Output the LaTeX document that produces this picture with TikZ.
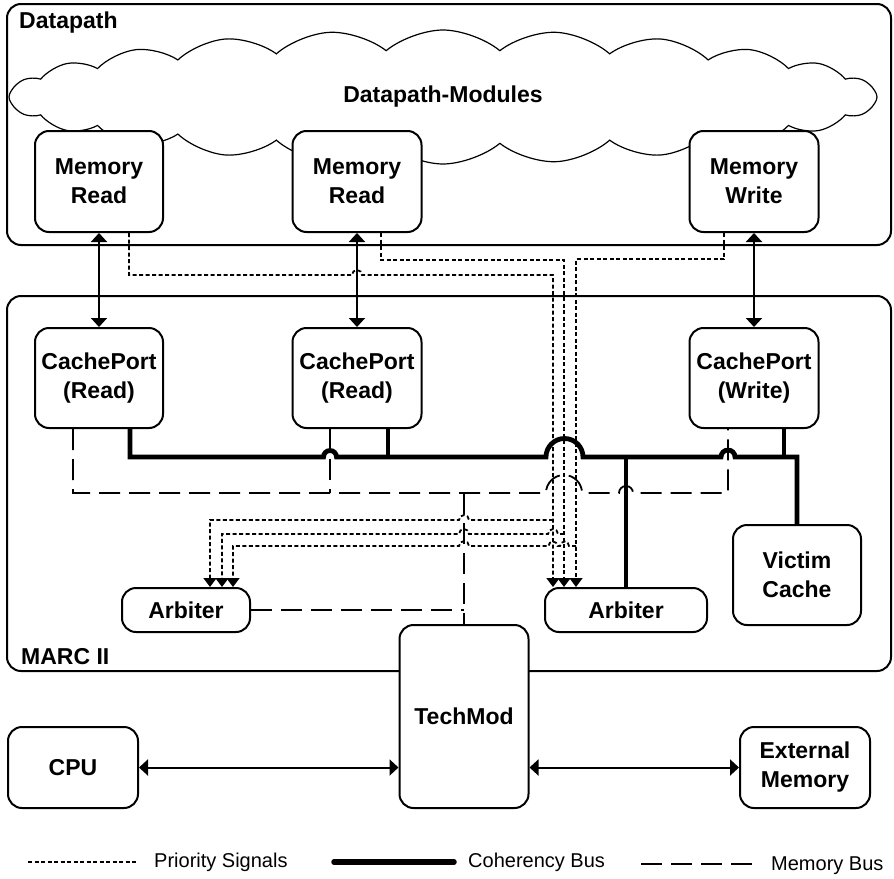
\documentclass[tikz,border=0pt]{standalone}
\usepackage{fontspec}
\setmainfont{Liberation Sans}
\usetikzlibrary{arrows.meta,shapes.symbols}

\newcommand\unitfont{\fontsize{23}{29}\selectfont\bfseries}
\newcommand\keyfont{\fontsize{20}{24}\selectfont}

\tikzset{
  frame/.style={draw, line width=2pt, rounded corners=14pt},
  unit/.style={draw, fill=white, line width=2pt, rounded corners=14pt,
    align=center, font=\unitfont, inner sep=0pt},
  title/.style={font=\unitfont, anchor=west, inner sep=0pt},
  link/.style={line width=2pt,
    {Triangle[width=16pt,length=9pt]}-{Triangle[width=16pt,length=9pt]}},
  prio/.style={line width=1.8pt, dash pattern=on 4pt off 2.5pt},
  prioend/.style={prio, -{Triangle[width=13pt,length=9pt]}},
  cohbus/.style={line width=4.8pt},
  membus/.style={line width=1.8pt, dash pattern=on 21pt off 9pt},
  keytext/.style={font=\keyfont, anchor=west, inner sep=0pt},
}

\begin{document}
\begin{tikzpicture}[x=1pt, y=-1pt]
\useasboundingbox (0,0) rectangle (894,878);

% enclosing blocks
\node[frame, minimum width=884pt, minimum height=241pt] (dp) at (449,124.5) {};
\node[frame, minimum width=884pt, minimum height=375pt] (marc) at (449,483.5) {};
\node[title] (dpt) at (19,23) {Datapath};
\node[title] (marct) at (21,657) {MARC II};

% cloud of datapath modules
\node[cloud, draw, line width=1.2pt, cloud puffs=24, cloud puff arc=80,
  cloud ignores aspect, minimum width=868pt, minimum height=134pt,
  inner sep=0pt, font=\unitfont] (dpm) at (443,97) {Datapath-Modules};

% memory modules
\node[unit, minimum width=128pt, minimum height=101pt] (mr1) at (99,181.5) {Memory\\Read};
\node[unit, minimum width=129pt, minimum height=101pt] (mr2) at (357,181.5) {Memory\\Read};
\node[unit, minimum width=129pt, minimum height=101pt] (mw) at (754,181.5) {Memory\\Write};

% cache ports
\node[unit, minimum width=128pt, minimum height=100pt] (cp1) at (99,378) {CachePort\\(Read)};
\node[unit, minimum width=129pt, minimum height=100pt] (cp2) at (357,378) {CachePort\\(Read)};
\node[unit, minimum width=129pt, minimum height=100pt] (cpw) at (754,378) {CachePort\\(Write)};

% arbiters, victim cache
\node[unit, minimum width=128pt, minimum height=44pt] (arb1) at (186,610) {Arbiter};
\node[unit, minimum width=162pt, minimum height=44pt] (arb2) at (626,610) {Arbiter};
\node[unit, minimum width=128pt, minimum height=100pt] (vc) at (797,575) {Victim\\Cache};

% TechMod and external parts
\node[unit, minimum width=129pt, minimum height=183pt] (tm) at (464,716.5) {TechMod};
\node[unit, minimum width=130pt, minimum height=81pt] (cpu) at (73,767.5) {CPU};
\node[unit, minimum width=130pt, minimum height=81pt] (em) at (805,767.5) {External\\Memory};

% data links
\draw[link] (mr1.south) -- (cp1.north);
\draw[link] (mr2.south) -- (cp2.north);
\draw[link] (mw.south) -- (cpw.north);
\draw[link] (cpu.east) -- (cpu.east -| tm.west);
\draw[link] (em.west -| tm.east) -- (em.west);

% coherency bus
\draw[cohbus] (130,0 |- cp1.south) -- (130,457) -- (323.5,457)
  arc[start angle=180, end angle=0, radius=6.5pt] -- (546,457)
  arc[start angle=180, end angle=0, radius=18.5pt] -- (721,457)
  arc[start angle=180, end angle=0, radius=7pt] -- (797,457) -- (vc.north);
\draw[cohbus] (388,0 |- cp2.south) -- (388,457);
\draw[cohbus] (784,0 |- cpw.south) -- (784,457);
\draw[cohbus] (626,457) -- (arb2.north);

% memory bus
\draw[membus] (73,0 |- cp1.south) -- (73,493) -- (546,493)
  arc[start angle=180, end angle=0, radius=18pt] -- (619,493)
  arc[start angle=180, end angle=0, radius=7pt] -- (728,493) -- (728,0 |- cpw.south);
\draw[membus] (330,0 |- cp2.south) -- (330,493);
\draw[membus] (464,493) -- (tm.north);
\draw[membus] (arb1.east) -- (464,0 |- arb1.east);

% priority signals
\draw[prioend] (129,0 |- mr1.south) -- (129,275) -- (352,275)
  arc[start angle=180, end angle=0, radius=5pt] -- (553,275) -- (553,0 |- arb2.north);
\draw[prioend] (553,520) -- (469,520)
  arc[start angle=0, end angle=180, radius=5pt] -- (210,520) -- (210,0 |- arb1.north);

\draw[prioend] (381,0 |- mr2.south) -- (381,260) -- (564,260) -- (564,0 |- arb2.north);
\draw[prioend] (564,534) -- (558,534)
  arc[start angle=0, end angle=180, radius=5pt] -- (469,534)
  arc[start angle=0, end angle=180, radius=5pt] -- (222,534) -- (222,0 |- arb1.north);

\draw[prioend] (724,0 |- mw.south) -- (724,259) -- (576,259) -- (576,0 |- arb2.north);
\draw[prioend] (576,546) -- (569,546)
  arc[start angle=0, end angle=180, radius=4.5pt] -- (557.5,546)
  arc[start angle=0, end angle=180, radius=4.5pt] -- (469,546)
  arc[start angle=0, end angle=180, radius=5pt] -- (233,546) -- (233,0 |- arb1.north);

% key
\coordinate (k1a) at (28,862);
\coordinate (k1b) at (138,862);
\coordinate (k2a) at (334,862);
\coordinate (k2b) at (454,862);
\coordinate (k3a) at (641,864);
\coordinate (k3b) at (758,864);
\draw[prio] (k1a) -- (k1b);
\draw[cohbus, line width=5.5pt, line cap=round] (k2a) -- (k2b);
\draw[membus] (k3a) -- (k3b);
\node[keytext] (k1t) at (154,862) {Priority Signals};
\node[keytext] (k2t) at (468,862) {Coherency Bus};
\node[keytext] (k3t) at (771,866) {Memory Bus};
\end{tikzpicture}
\end{document}
